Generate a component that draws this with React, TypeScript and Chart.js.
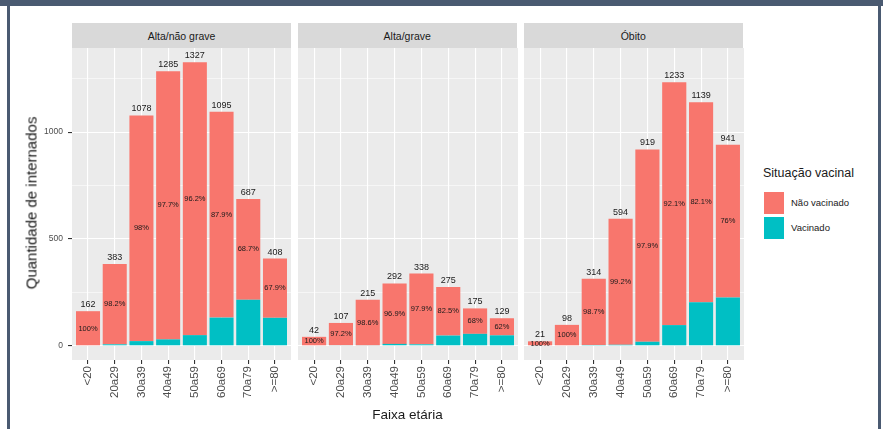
import React, { useEffect, useRef } from 'react';
import { Chart, registerables } from 'chart.js';

Chart.register(...registerables);

const FONT = '"Liberation Sans", Arial, Helvetica, sans-serif';

// ---- Data ----
const categories = ['<20', '20a29', '30a39', '40a49', '50a59', '60a69', '70a79', '>=80'];
const panelTitles = ['Alta/não grave', 'Alta/grave', 'Óbito'];
const seriesNames = ['Não vacinado', 'Vacinado'];

const naoVacinadoAltaNaoGrave = [162, 376, 1056, 1255, 1277, 963, 472, 277];
const vacinadoAltaNaoGrave = [0, 7, 22, 30, 50, 132, 215, 131];
const pctAltaNaoGrave = ['100%', '98.2%', '98%', '97.7%', '96.2%', '87.9%', '68.7%', '67.9%'];

const naoVacinadoAltaGrave = [42, 104, 212, 283, 331, 227, 119, 80];
const vacinadoAltaGrave = [0, 3, 3, 9, 7, 48, 56, 49];
const pctAltaGrave = ['100%', '97.2%', '98.6%', '96.9%', '97.9%', '82.5%', '68%', '62%'];

const naoVacinadoObito = [21, 98, 310, 589, 900, 1136, 935, 715];
const vacinadoObito = [0, 0, 4, 5, 19, 97, 204, 226];
const pctObito = ['100%', '100%', '98.7%', '99.2%', '97.9%', '92.1%', '82.1%', '76%'];

const yTicks = [0, 250, 500, 750, 1000, 1250];
const yMajor = [0, 500, 1000];
const Y_MIN = -66.35;
const Y_MAX = 1393.35;

// ---- Styles / layout ----
const COL_NAO = '#F8766D';
const COL_VAC = '#00BFC4';
const PANEL_TOP = 48;
const PANEL_BOTTOM = 360;
const CANVAS_BOTTOM = 429;
const Y_AXIS_W = 40;
const panelX = [
  [72, 291],
  [297.5, 517],
  [523.5, 743],
];

const panelData = [
  { nao: naoVacinadoAltaNaoGrave, vac: vacinadoAltaNaoGrave, pct: pctAltaNaoGrave },
  { nao: naoVacinadoAltaGrave, vac: vacinadoAltaGrave, pct: pctAltaGrave },
  { nao: naoVacinadoObito, vac: vacinadoObito, pct: pctObito },
];

function FacetPanel({ index }: { index: number }) {
  const ref = useRef<HTMLCanvasElement | null>(null);
  const showY = index === 0;
  const [L, R] = panelX[index];
  const canvasLeft = showY ? L - Y_AXIS_W : L;
  const width = Math.round(R - L + (showY ? Y_AXIS_W : 0));
  const height = CANVAS_BOTTOM - PANEL_TOP;
  const d = panelData[index];

  useEffect(() => {
    if (!ref.current) return;
    const bgPlugin = {
      id: 'panelBg',
      beforeDraw(chart: any) {
        const { ctx, chartArea } = chart;
        ctx.save();
        ctx.fillStyle = '#EBEBEB';
        ctx.fillRect(chartArea.left, chartArea.top, chartArea.right - chartArea.left, chartArea.bottom - chartArea.top);
        ctx.restore();
      },
    };
    const labelPlugin = {
      id: 'barLabels',
      afterDatasetsDraw(chart: any) {
        const { ctx } = chart;
        const xs = chart.scales.x;
        const ys = chart.scales.y;
        ctx.save();
        ctx.fillStyle = '#1a1a1a';
        ctx.textAlign = 'center';
        categories.forEach((_, i) => {
          const total = d.nao[i] + d.vac[i];
          const x = xs.getPixelForValue(i);
          ctx.font = `9px ${FONT}`;
          ctx.textBaseline = 'bottom';
          ctx.fillText(String(total), x, ys.getPixelForValue(total) - 2);
          ctx.font = `7.5px ${FONT}`;
          ctx.textBaseline = 'middle';
          ctx.fillText(d.pct[i], x, ys.getPixelForValue(d.vac[i] + d.nao[i] / 2));
        });
        ctx.restore();
      },
    };

    const chart = new Chart(ref.current, {
      type: 'bar',
      data: {
        datasets: [
          {
            label: seriesNames[1],
            data: d.vac.map((v, i) => ({ x: i, y: v })),
            backgroundColor: COL_VAC,
            borderWidth: 0,
            barPercentage: 0.9,
            categoryPercentage: 1,
          },
          {
            label: seriesNames[0],
            data: d.nao.map((v, i) => ({ x: i, y: v })),
            backgroundColor: COL_NAO,
            borderWidth: 0,
            barPercentage: 0.9,
            categoryPercentage: 1,
          },
        ],
      },
      options: {
        responsive: false,
        animation: false,
        layout: { padding: 0 },
        plugins: { legend: { display: false }, tooltip: { enabled: false }, title: { display: false } },
        scales: {
          x: {
            type: 'linear',
            stacked: true,
            offset: false,
            min: -0.6,
            max: 7.6,
            afterBuildTicks: (s: any) => {
              s.ticks = categories.map((_, i) => ({ value: i }));
            },
            afterFit: (s: any) => {
              s.height = CANVAS_BOTTOM - PANEL_BOTTOM;
              s.paddingLeft = 0;
              s.paddingRight = 0;
            },
            ticks: {
              autoSkip: false,
              minRotation: 90,
              maxRotation: 90,
              padding: 2,
              color: '#4d4d4d',
              font: { family: FONT, size: 11.5 },
              callback: (v: any) => categories[v as number] ?? '',
            },
            grid: { color: '#ffffff', lineWidth: 1.1, tickColor: '#333333', tickLength: 4, drawTicks: true, offset: false },
            border: { display: false },
          },
          y: {
            type: 'linear',
            stacked: true,
            min: Y_MIN,
            max: Y_MAX,
            afterBuildTicks: (s: any) => {
              s.ticks = yTicks.map((v) => ({ value: v }));
            },
            afterFit: (s: any) => {
              s.width = showY ? Y_AXIS_W : 0;
              s.paddingTop = 0;
              s.paddingBottom = 0;
            },
            ticks: {
              display: showY,
              padding: 5,
              color: '#4d4d4d',
              font: { family: FONT, size: 8.5 },
              callback: (v: any) => (yMajor.includes(v as number) ? String(v) : ''),
            },
            grid: {
              color: '#ffffff',
              lineWidth: (c: any) => (c.tick && yMajor.includes(c.tick.value) ? 1.1 : 0.55),
              drawTicks: showY,
              tickLength: 4,
              tickColor: (c: any) => (c.tick && yMajor.includes(c.tick.value) ? '#333333' : 'rgba(0,0,0,0)'),
            },
            border: { display: false },
          },
        },
      },
      plugins: [bgPlugin, labelPlugin],
    } as any);
    return () => chart.destroy();
  }, []);

  return (
    <>
      <div
        style={{
          position: 'absolute',
          left: L,
          top: 23,
          width: R - L,
          height: PANEL_TOP - 23,
          background: '#D9D9D9',
          color: '#1a1a1a',
          fontFamily: FONT,
          fontSize: 10.5,
          display: 'flex',
          alignItems: 'center',
          justifyContent: 'center',
        }}
      >
        {panelTitles[index]}
      </div>
      <canvas
        ref={ref}
        width={width}
        height={height}
        style={{ position: 'absolute', left: canvasLeft, top: PANEL_TOP, width, height }}
      />
    </>
  );
}

export default function App() {
  return (
    <div
      style={{
        position: 'fixed',
        left: 0,
        top: 0,
        width: 883,
        height: 429,
        background: '#ffffff',
        overflow: 'hidden',
        fontFamily: FONT,
      }}
    >
      <div style={{ position: 'absolute', left: 0, top: 0, width: 883, height: 6, background: '#4A5A71' }} />
      <div style={{ position: 'absolute', left: 7, top: 0, width: 3, height: 429, background: '#4A5A71' }} />
      <div style={{ position: 'absolute', left: 878, top: 0, width: 3, height: 429, background: '#4A5A71' }} />

      <FacetPanel index={0} />
      <FacetPanel index={1} />
      <FacetPanel index={2} />

      <div
        style={{
          position: 'absolute',
          left: 31,
          top: 203,
          transform: 'translate(-50%, -50%) rotate(-90deg)',
          whiteSpace: 'nowrap',
          fontSize: 15,
          color: '#1a1a1a',
        }}
      >
        Quantidade de internados
      </div>
      <div
        style={{
          position: 'absolute',
          left: 407.5,
          top: 414,
          transform: 'translate(-50%, -50%)',
          whiteSpace: 'nowrap',
          fontSize: 13.5,
          color: '#1a1a1a',
        }}
      >
        Faixa etária
      </div>

      <div style={{ position: 'absolute', left: 763, top: 166, fontSize: 12.5, color: '#1a1a1a', whiteSpace: 'nowrap' }}>
        Situação vacinal
      </div>
      <div style={{ position: 'absolute', left: 764, top: 192, width: 20, height: 22, background: COL_NAO }} />
      <div style={{ position: 'absolute', left: 764, top: 217, width: 20, height: 22, background: COL_VAC }} />
      <div style={{ position: 'absolute', left: 791, top: 197, fontSize: 9.5, color: '#1a1a1a', whiteSpace: 'nowrap' }}>
        {seriesNames[0]}
      </div>
      <div style={{ position: 'absolute', left: 791, top: 222, fontSize: 9.5, color: '#1a1a1a', whiteSpace: 'nowrap' }}>
        {seriesNames[1]}
      </div>
    </div>
  );
}
